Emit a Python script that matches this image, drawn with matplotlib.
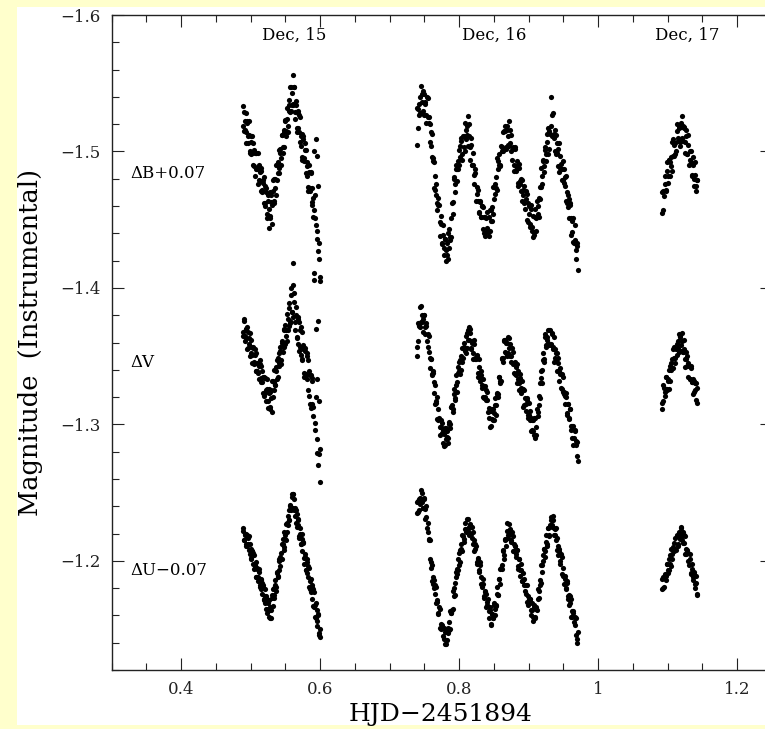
import numpy as np
import matplotlib
matplotlib.use('Agg')
import matplotlib.pyplot as plt
from matplotlib.patches import Rectangle
from matplotlib.ticker import MultipleLocator, FuncFormatter

# HJD - 2451894, two interleaved frame sequences per night (a, b)
hjd_dec15_a = [0.4890, 0.4903, 0.4916, 0.4929, 0.4942, 0.4955, 0.4968, 0.4981, 0.4994, 0.5007,
               0.5020, 0.5033, 0.5046, 0.5059, 0.5072, 0.5085, 0.5098, 0.5111, 0.5124, 0.5137,
               0.5150, 0.5163, 0.5176, 0.5189, 0.5202, 0.5215, 0.5228, 0.5241, 0.5254, 0.5267,
               0.5280, 0.5293, 0.5306, 0.5319, 0.5332, 0.5345, 0.5358, 0.5371, 0.5384, 0.5397,
               0.5410, 0.5423, 0.5436, 0.5449, 0.5462, 0.5475, 0.5488, 0.5501, 0.5514, 0.5527,
               0.5540, 0.5553, 0.5566, 0.5579, 0.5592, 0.5605, 0.5618, 0.5631, 0.5644, 0.5657,
               0.5670, 0.5683, 0.5696, 0.5709, 0.5722, 0.5735, 0.5748, 0.5761, 0.5774, 0.5787,
               0.5800, 0.5813, 0.5826, 0.5839, 0.5852, 0.5865, 0.5878, 0.5891, 0.5904, 0.5917,
               0.5930, 0.5943, 0.5956, 0.5969, 0.5982, 0.5995]
hjd_dec15_b = [0.4897, 0.4910, 0.4923, 0.4936, 0.4949, 0.4962, 0.4975, 0.4988, 0.5001, 0.5014,
               0.5027, 0.5040, 0.5053, 0.5066, 0.5079, 0.5092, 0.5105, 0.5118, 0.5131, 0.5144,
               0.5157, 0.5170, 0.5183, 0.5196, 0.5209, 0.5222, 0.5235, 0.5248, 0.5261, 0.5274,
               0.5287, 0.5300, 0.5313, 0.5326, 0.5339, 0.5352, 0.5365, 0.5378, 0.5391, 0.5404,
               0.5417, 0.5430, 0.5443, 0.5456, 0.5469, 0.5482, 0.5495, 0.5508, 0.5521, 0.5534,
               0.5547, 0.5560, 0.5573, 0.5586, 0.5599, 0.5612, 0.5625, 0.5638, 0.5651, 0.5664,
               0.5677, 0.5690, 0.5703, 0.5716, 0.5729, 0.5742, 0.5755, 0.5768, 0.5781, 0.5794,
               0.5807, 0.5820, 0.5833, 0.5846, 0.5859, 0.5872, 0.5885, 0.5898, 0.5911, 0.5924,
               0.5937, 0.5950, 0.5963, 0.5976, 0.5989, 0.6002]
hjd_dec16_a = [0.7390, 0.7405, 0.7420, 0.7435, 0.7450, 0.7465, 0.7480, 0.7495, 0.7510, 0.7525,
               0.7540, 0.7555, 0.7570, 0.7585, 0.7600, 0.7615, 0.7630, 0.7645, 0.7660, 0.7675,
               0.7690, 0.7705, 0.7720, 0.7735, 0.7750, 0.7765, 0.7780, 0.7795, 0.7810, 0.7825,
               0.7840, 0.7855, 0.7870, 0.7885, 0.7900, 0.7915, 0.7930, 0.7945, 0.7960, 0.7975,
               0.7990, 0.8005, 0.8020, 0.8035, 0.8050, 0.8065, 0.8080, 0.8095, 0.8110, 0.8125,
               0.8140, 0.8155, 0.8170, 0.8185, 0.8200, 0.8215, 0.8230, 0.8245, 0.8260, 0.8275,
               0.8290, 0.8305, 0.8320, 0.8335, 0.8350, 0.8365, 0.8380, 0.8395, 0.8410, 0.8425,
               0.8440, 0.8455, 0.8470, 0.8485, 0.8500, 0.8515, 0.8530, 0.8545, 0.8560, 0.8575,
               0.8590, 0.8605, 0.8620, 0.8635, 0.8650, 0.8665, 0.8680, 0.8695, 0.8710, 0.8725,
               0.8740, 0.8755, 0.8770, 0.8785, 0.8800, 0.8815, 0.8830, 0.8845, 0.8860, 0.8875,
               0.8890, 0.8905, 0.8920, 0.8935, 0.8950, 0.8965, 0.8980, 0.8995, 0.9010, 0.9025,
               0.9040, 0.9055, 0.9070, 0.9085, 0.9100, 0.9115, 0.9130, 0.9145, 0.9160, 0.9175,
               0.9190, 0.9205, 0.9220, 0.9235, 0.9250, 0.9265, 0.9280, 0.9295, 0.9310, 0.9325,
               0.9340, 0.9355, 0.9370, 0.9385, 0.9400, 0.9415, 0.9430, 0.9445, 0.9460, 0.9475,
               0.9490, 0.9505, 0.9520, 0.9535, 0.9550, 0.9565, 0.9580, 0.9595, 0.9610, 0.9625,
               0.9640, 0.9655, 0.9670, 0.9685, 0.9700]
hjd_dec16_b = [0.7397, 0.7412, 0.7427, 0.7442, 0.7457, 0.7472, 0.7487, 0.7502, 0.7517, 0.7532,
               0.7547, 0.7562, 0.7577, 0.7592, 0.7607, 0.7622, 0.7637, 0.7652, 0.7667, 0.7682,
               0.7697, 0.7712, 0.7727, 0.7742, 0.7757, 0.7772, 0.7787, 0.7802, 0.7817, 0.7832,
               0.7847, 0.7862, 0.7877, 0.7892, 0.7907, 0.7922, 0.7937, 0.7952, 0.7967, 0.7982,
               0.7997, 0.8012, 0.8027, 0.8042, 0.8057, 0.8072, 0.8087, 0.8102, 0.8117, 0.8132,
               0.8147, 0.8162, 0.8177, 0.8192, 0.8207, 0.8222, 0.8237, 0.8252, 0.8267, 0.8282,
               0.8297, 0.8312, 0.8327, 0.8342, 0.8357, 0.8372, 0.8387, 0.8402, 0.8417, 0.8432,
               0.8447, 0.8462, 0.8477, 0.8492, 0.8507, 0.8522, 0.8537, 0.8552, 0.8567, 0.8582,
               0.8597, 0.8612, 0.8627, 0.8642, 0.8657, 0.8672, 0.8687, 0.8702, 0.8717, 0.8732,
               0.8747, 0.8762, 0.8777, 0.8792, 0.8807, 0.8822, 0.8837, 0.8852, 0.8867, 0.8882,
               0.8897, 0.8912, 0.8927, 0.8942, 0.8957, 0.8972, 0.8987, 0.9002, 0.9017, 0.9032,
               0.9047, 0.9062, 0.9077, 0.9092, 0.9107, 0.9122, 0.9137, 0.9152, 0.9167, 0.9182,
               0.9197, 0.9212, 0.9227, 0.9242, 0.9257, 0.9272, 0.9287, 0.9302, 0.9317, 0.9332,
               0.9347, 0.9362, 0.9377, 0.9392, 0.9407, 0.9422, 0.9437, 0.9452, 0.9467, 0.9482,
               0.9497, 0.9512, 0.9527, 0.9542, 0.9557, 0.9572, 0.9587, 0.9602, 0.9617, 0.9632,
               0.9647, 0.9662, 0.9677, 0.9692, 0.9707]
hjd_dec17_a = [1.0920, 1.0935, 1.0950, 1.0965, 1.0980, 1.0995, 1.1010, 1.1025, 1.1040, 1.1055,
               1.1070, 1.1085, 1.1100, 1.1115, 1.1130, 1.1145, 1.1160, 1.1175, 1.1190, 1.1205,
               1.1220, 1.1235, 1.1250, 1.1265, 1.1280, 1.1295, 1.1310, 1.1325, 1.1340, 1.1355,
               1.1370, 1.1385, 1.1400, 1.1415, 1.1430]
hjd_dec17_b = [1.0927, 1.0942, 1.0957, 1.0972, 1.0987, 1.1002, 1.1017, 1.1032, 1.1047, 1.1062,
               1.1077, 1.1092, 1.1107, 1.1122, 1.1137, 1.1152, 1.1167, 1.1182, 1.1197, 1.1212,
               1.1227, 1.1242, 1.1257, 1.1272, 1.1287, 1.1302, 1.1317, 1.1332, 1.1347, 1.1362,
               1.1377, 1.1392, 1.1407, 1.1422]

# dB + 0.07
b_dec15_a = [-1.519, -1.529, -1.516, -1.528, -1.514, -1.522, -1.506, -1.512, -1.499, -1.511,
             -1.499, -1.506, -1.489, -1.499, -1.487, -1.499, -1.488, -1.476, -1.490, -1.478,
             -1.488, -1.470, -1.477, -1.462, -1.475, -1.460, -1.473, -1.451, -1.464, -1.444,
             -1.453, -1.468, -1.447, -1.471, -1.462, -1.480, -1.473, -1.490, -1.479, -1.492,
             -1.484, -1.502, -1.495, -1.512, -1.499, -1.514, -1.503, -1.522, -1.515, -1.532,
             -1.519, -1.538, -1.529, -1.547, -1.534, -1.556, -1.534, -1.547, -1.529, -1.537,
             -1.517, -1.528, -1.514, -1.525, -1.504, -1.513, -1.494, -1.509, -1.493, -1.506,
             -1.484, -1.492, -1.474, -1.490, -1.471, -1.485, -1.463, -1.473, -1.452, -1.500,
             -1.451, -1.509, -1.442, -1.427, -1.433, -1.405]
b_dec15_b = [-1.533, -1.515, -1.522, -1.506, -1.521, -1.511, -1.522, -1.500, -1.507, -1.498,
             -1.511, -1.490, -1.501, -1.482, -1.499, -1.487, -1.499, -1.479, -1.485, -1.471,
             -1.486, -1.472, -1.479, -1.481, -1.462, -1.470, -1.454, -1.468, -1.458, -1.470,
             -1.451, -1.463, -1.461, -1.479, -1.464, -1.480, -1.468, -1.490, -1.484, -1.501,
             -1.488, -1.499, -1.490, -1.512, -1.503, -1.516, -1.523, -1.511, -1.524, -1.514,
             -1.534, -1.530, -1.547, -1.530, -1.543, -1.535, -1.547, -1.524, -1.534, -1.514,
             -1.530, -1.517, -1.527, -1.507, -1.511, -1.496, -1.511, -1.495, -1.501, -1.501,
             -1.482, -1.489, -1.471, -1.485, -1.473, -1.484, -1.461, -1.466, -1.457, -1.468,
             -1.446, -1.497, -1.436, -1.475, -1.421, -1.408]
b_dec16_a = [-1.505, -1.531, -1.527, -1.540, -1.528, -1.542, -1.530, -1.542, -1.535, -1.527,
             -1.540, -1.525, -1.525, -1.507, -1.514, -1.496, -1.495, -1.473, -1.482, -1.468,
             -1.457, -1.461, -1.448, -1.453, -1.433, -1.439, -1.424, -1.436, -1.428, -1.424,
             -1.440, -1.429, -1.437, -1.437, -1.462, -1.463, -1.480, -1.470, -1.490, -1.487,
             -1.487, -1.501, -1.496, -1.510, -1.498, -1.511, -1.500, -1.516, -1.512, -1.526,
             -1.520, -1.503, -1.505, -1.490, -1.499, -1.483, -1.484, -1.464, -1.474, -1.464,
             -1.456, -1.464, -1.452, -1.460, -1.443, -1.452, -1.438, -1.451, -1.444, -1.438,
             -1.457, -1.449, -1.459, -1.454, -1.474, -1.469, -1.481, -1.472, -1.493, -1.490,
             -1.490, -1.504, -1.500, -1.514, -1.502, -1.515, -1.503, -1.519, -1.511, -1.504,
             -1.516, -1.500, -1.503, -1.490, -1.502, -1.489, -1.493, -1.475, -1.488, -1.478,
             -1.471, -1.479, -1.468, -1.475, -1.458, -1.465, -1.450, -1.462, -1.454, -1.445,
             -1.458, -1.442, -1.437, -1.441, -1.458, -1.451, -1.460, -1.452, -1.474, -1.474,
             -1.476, -1.493, -1.489, -1.503, -1.493, -1.507, -1.498, -1.515, -1.513, -1.540,
             -1.527, -1.511, -1.513, -1.500, -1.512, -1.499, -1.502, -1.485, -1.497, -1.487,
             -1.479, -1.487, -1.475, -1.482, -1.462, -1.468, -1.451, -1.461, -1.451, -1.441,
             -1.451, -1.433, -1.435, -1.421, -1.431]
b_dec16_b = [-1.532, -1.517, -1.535, -1.528, -1.548, -1.536, -1.544, -1.527, -1.536, -1.521,
             -1.539, -1.521, -1.520, -1.504, -1.513, -1.493, -1.492, -1.472, -1.476, -1.462,
             -1.466, -1.461, -1.438, -1.447, -1.432, -1.446, -1.429, -1.436, -1.420, -1.433,
             -1.421, -1.443, -1.435, -1.451, -1.454, -1.481, -1.476, -1.487, -1.478, -1.493,
             -1.490, -1.504, -1.508, -1.494, -1.511, -1.503, -1.521, -1.509, -1.519, -1.504,
             -1.511, -1.494, -1.510, -1.490, -1.490, -1.476, -1.487, -1.469, -1.472, -1.455,
             -1.463, -1.452, -1.460, -1.459, -1.440, -1.452, -1.441, -1.456, -1.441, -1.452,
             -1.442, -1.457, -1.449, -1.474, -1.465, -1.476, -1.473, -1.495, -1.487, -1.498,
             -1.489, -1.503, -1.500, -1.515, -1.519, -1.502, -1.516, -1.505, -1.522, -1.506,
             -1.512, -1.494, -1.502, -1.486, -1.503, -1.486, -1.488, -1.477, -1.491, -1.476,
             -1.480, -1.464, -1.472, -1.462, -1.471, -1.469, -1.448, -1.460, -1.447, -1.461,
             -1.445, -1.453, -1.439, -1.452, -1.442, -1.464, -1.454, -1.466, -1.465, -1.488,
             -1.482, -1.494, -1.485, -1.501, -1.498, -1.513, -1.517, -1.502, -1.519, -1.511,
             -1.528, -1.510, -1.516, -1.498, -1.506, -1.489, -1.506, -1.488, -1.491, -1.479,
             -1.493, -1.477, -1.481, -1.464, -1.470, -1.459, -1.465, -1.462, -1.439, -1.449,
             -1.434, -1.446, -1.428, -1.433, -1.413]
b_dec17_a = [-1.455, -1.471, -1.467, -1.482, -1.472, -1.486, -1.477, -1.494, -1.492, -1.489,
             -1.507, -1.497, -1.505, -1.498, -1.515, -1.508, -1.517, -1.504, -1.521, -1.526,
             -1.508, -1.517, -1.507, -1.516, -1.498, -1.505, -1.490, -1.500, -1.492, -1.483,
             -1.496, -1.480, -1.483, -1.471, -1.479]
b_dec17_b = [-1.470, -1.457, -1.476, -1.471, -1.492, -1.482, -1.494, -1.482, -1.496, -1.486,
             -1.509, -1.497, -1.506, -1.500, -1.520, -1.510, -1.519, -1.507, -1.518, -1.510,
             -1.519, -1.518, -1.499, -1.511, -1.498, -1.512, -1.494, -1.500, -1.482, -1.490,
             -1.475, -1.492, -1.475, -1.479]

# dV
v_dec15_a = [-1.368, -1.376, -1.361, -1.370, -1.363, -1.371, -1.356, -1.363, -1.350, -1.362,
             -1.351, -1.357, -1.344, -1.351, -1.339, -1.352, -1.339, -1.344, -1.333, -1.344,
             -1.334, -1.339, -1.323, -1.335, -1.323, -1.334, -1.317, -1.326, -1.312, -1.326,
             -1.313, -1.325, -1.309, -1.332, -1.325, -1.340, -1.329, -1.342, -1.333, -1.349,
             -1.343, -1.357, -1.347, -1.360, -1.353, -1.369, -1.357, -1.373, -1.365, -1.381,
             -1.369, -1.389, -1.376, -1.400, -1.382, -1.418, -1.379, -1.390, -1.369, -1.380,
             -1.364, -1.379, -1.354, -1.369, -1.351, -1.368, -1.347, -1.355, -1.335, -1.354,
             -1.336, -1.350, -1.325, -1.339, -1.315, -1.336, -1.315, -1.334, -1.306, -1.411,
             -1.296, -1.320, -1.279, -1.376, -1.278, -1.258]
v_dec15_b = [-1.365, -1.377, -1.365, -1.370, -1.355, -1.368, -1.359, -1.367, -1.352, -1.357,
             -1.345, -1.356, -1.346, -1.355, -1.339, -1.345, -1.338, -1.343, -1.347, -1.331,
             -1.343, -1.331, -1.335, -1.321, -1.334, -1.325, -1.333, -1.317, -1.323, -1.311,
             -1.324, -1.319, -1.332, -1.320, -1.331, -1.329, -1.339, -1.347, -1.335, -1.352,
             -1.345, -1.354, -1.344, -1.361, -1.357, -1.370, -1.359, -1.369, -1.361, -1.377,
             -1.372, -1.385, -1.374, -1.395, -1.382, -1.402, -1.396, -1.375, -1.386, -1.363,
             -1.377, -1.359, -1.375, -1.357, -1.371, -1.348, -1.358, -1.338, -1.356, -1.337,
             -1.352, -1.333, -1.347, -1.321, -1.336, -1.312, -1.332, -1.313, -1.406, -1.301,
             -1.370, -1.289, -1.333, -1.270, -1.317, -1.282]
v_dec16_a = [-1.350, -1.361, -1.373, -1.371, -1.387, -1.375, -1.377, -1.380, -1.366, -1.374,
             -1.361, -1.366, -1.353, -1.341, -1.348, -1.337, -1.339, -1.331, -1.315, -1.317,
             -1.304, -1.311, -1.298, -1.298, -1.301, -1.286, -1.293, -1.285, -1.297, -1.291,
             -1.286, -1.300, -1.300, -1.313, -1.314, -1.309, -1.322, -1.319, -1.336, -1.331,
             -1.338, -1.346, -1.337, -1.350, -1.346, -1.360, -1.355, -1.352, -1.367, -1.362,
             -1.371, -1.367, -1.355, -1.361, -1.352, -1.362, -1.348, -1.348, -1.350, -1.335,
             -1.342, -1.332, -1.339, -1.329, -1.320, -1.328, -1.320, -1.325, -1.318, -1.305,
             -1.310, -1.299, -1.311, -1.303, -1.308, -1.314, -1.307, -1.322, -1.320, -1.335,
             -1.332, -1.332, -1.349, -1.349, -1.362, -1.362, -1.352, -1.360, -1.352, -1.363,
             -1.350, -1.350, -1.353, -1.338, -1.346, -1.336, -1.344, -1.333, -1.325, -1.334,
             -1.327, -1.332, -1.326, -1.314, -1.319, -1.310, -1.319, -1.307, -1.307, -1.310,
             -1.295, -1.303, -1.295, -1.305, -1.290, -1.292, -1.309, -1.314, -1.330, -1.334,
             -1.330, -1.347, -1.346, -1.364, -1.357, -1.362, -1.369, -1.358, -1.369, -1.359,
             -1.366, -1.355, -1.346, -1.355, -1.347, -1.352, -1.345, -1.332, -1.337, -1.326,
             -1.335, -1.322, -1.321, -1.323, -1.308, -1.315, -1.304, -1.311, -1.299, -1.290,
             -1.299, -1.290, -1.295, -1.288, -1.277]
v_dec16_b = [-1.357, -1.374, -1.372, -1.386, -1.375, -1.380, -1.368, -1.380, -1.371, -1.372,
             -1.357, -1.365, -1.349, -1.348, -1.336, -1.338, -1.323, -1.329, -1.316, -1.320,
             -1.303, -1.305, -1.292, -1.303, -1.294, -1.296, -1.284, -1.297, -1.289, -1.295,
             -1.290, -1.302, -1.297, -1.313, -1.311, -1.326, -1.318, -1.329, -1.324, -1.342,
             -1.339, -1.347, -1.340, -1.356, -1.349, -1.357, -1.354, -1.365, -1.356, -1.369,
             -1.362, -1.370, -1.356, -1.360, -1.348, -1.359, -1.349, -1.351, -1.338, -1.348,
             -1.335, -1.336, -1.327, -1.333, -1.319, -1.328, -1.318, -1.324, -1.309, -1.312,
             -1.298, -1.310, -1.304, -1.311, -1.303, -1.319, -1.314, -1.323, -1.322, -1.335,
             -1.330, -1.348, -1.346, -1.361, -1.353, -1.360, -1.350, -1.364, -1.356, -1.359,
             -1.346, -1.356, -1.344, -1.345, -1.337, -1.342, -1.330, -1.339, -1.330, -1.337,
             -1.323, -1.326, -1.313, -1.325, -1.315, -1.318, -1.305, -1.316, -1.303, -1.305,
             -1.296, -1.303, -1.292, -1.305, -1.298, -1.311, -1.306, -1.321, -1.319, -1.339,
             -1.340, -1.352, -1.348, -1.366, -1.358, -1.364, -1.360, -1.369, -1.358, -1.367,
             -1.357, -1.364, -1.349, -1.352, -1.339, -1.349, -1.339, -1.341, -1.327, -1.337,
             -1.324, -1.324, -1.315, -1.320, -1.307, -1.315, -1.305, -1.311, -1.296, -1.299,
             -1.285, -1.296, -1.285, -1.287, -1.273]
v_dec17_a = [-1.311, -1.317, -1.327, -1.321, -1.335, -1.326, -1.332, -1.340, -1.332, -1.345,
             -1.341, -1.355, -1.349, -1.345, -1.359, -1.356, -1.366, -1.364, -1.354, -1.361,
             -1.353, -1.362, -1.348, -1.348, -1.350, -1.335, -1.343, -1.333, -1.341, -1.331,
             -1.322, -1.332, -1.325, -1.330, -1.316]
v_dec17_b = [-1.316, -1.329, -1.324, -1.335, -1.325, -1.333, -1.326, -1.343, -1.340, -1.348,
             -1.341, -1.357, -1.349, -1.355, -1.351, -1.361, -1.353, -1.365, -1.358, -1.367,
             -1.353, -1.355, -1.342, -1.353, -1.343, -1.345, -1.333, -1.343, -1.331, -1.333,
             -1.324, -1.330, -1.318, -1.327]

# dU - 0.07
u_dec15_a = [-1.222, -1.215, -1.220, -1.212, -1.220, -1.211, -1.217, -1.208, -1.212, -1.201,
             -1.207, -1.198, -1.204, -1.195, -1.199, -1.188, -1.194, -1.185, -1.192, -1.182,
             -1.187, -1.176, -1.181, -1.172, -1.179, -1.169, -1.174, -1.162, -1.169, -1.159,
             -1.164, -1.158, -1.173, -1.167, -1.180, -1.175, -1.186, -1.181, -1.192, -1.188,
             -1.201, -1.196, -1.206, -1.201, -1.212, -1.208, -1.221, -1.216, -1.227, -1.221,
             -1.233, -1.230, -1.241, -1.237, -1.247, -1.249, -1.239, -1.245, -1.233, -1.237,
             -1.225, -1.230, -1.218, -1.224, -1.212, -1.220, -1.207, -1.213, -1.198, -1.205,
             -1.193, -1.201, -1.188, -1.195, -1.179, -1.187, -1.172, -1.182, -1.167, -1.177,
             -1.159, -1.169, -1.152, -1.161, -1.147, -1.144]
u_dec15_b = [-1.224, -1.215, -1.219, -1.211, -1.219, -1.212, -1.218, -1.205, -1.209, -1.202,
             -1.207, -1.206, -1.194, -1.197, -1.188, -1.195, -1.188, -1.194, -1.181, -1.186,
             -1.179, -1.184, -1.182, -1.171, -1.174, -1.165, -1.172, -1.165, -1.171, -1.158,
             -1.166, -1.164, -1.175, -1.179, -1.173, -1.182, -1.178, -1.191, -1.189, -1.200,
             -1.193, -1.203, -1.201, -1.212, -1.216, -1.210, -1.219, -1.215, -1.228, -1.226,
             -1.237, -1.230, -1.240, -1.238, -1.249, -1.249, -1.237, -1.239, -1.228, -1.234,
             -1.226, -1.231, -1.217, -1.220, -1.212, -1.216, -1.214, -1.202, -1.203, -1.193,
             -1.199, -1.191, -1.196, -1.181, -1.185, -1.177, -1.181, -1.179, -1.166, -1.168,
             -1.158, -1.164, -1.156, -1.160, -1.146, -1.150]
u_dec16_a = [-1.235, -1.244, -1.237, -1.246, -1.245, -1.250, -1.239, -1.245, -1.238, -1.240,
             -1.224, -1.221, -1.216, -1.201, -1.199, -1.185, -1.188, -1.180, -1.182, -1.169,
             -1.171, -1.161, -1.165, -1.150, -1.151, -1.151, -1.143, -1.148, -1.139, -1.148,
             -1.147, -1.155, -1.150, -1.162, -1.164, -1.178, -1.174, -1.184, -1.192, -1.190,
             -1.201, -1.197, -1.208, -1.209, -1.219, -1.214, -1.223, -1.221, -1.231, -1.222,
             -1.225, -1.227, -1.220, -1.225, -1.212, -1.215, -1.209, -1.211, -1.198, -1.201,
             -1.192, -1.197, -1.183, -1.183, -1.183, -1.174, -1.178, -1.166, -1.170, -1.163,
             -1.166, -1.154, -1.161, -1.158, -1.168, -1.160, -1.168, -1.176, -1.175, -1.187,
             -1.183, -1.195, -1.197, -1.208, -1.204, -1.216, -1.216, -1.228, -1.217, -1.221,
             -1.223, -1.214, -1.218, -1.207, -1.211, -1.205, -1.208, -1.196, -1.201, -1.193,
             -1.198, -1.185, -1.186, -1.187, -1.178, -1.182, -1.170, -1.174, -1.169, -1.172,
             -1.160, -1.164, -1.159, -1.168, -1.159, -1.165, -1.172, -1.173, -1.186, -1.184,
             -1.197, -1.200, -1.209, -1.203, -1.214, -1.212, -1.224, -1.218, -1.226, -1.232,
             -1.225, -1.230, -1.219, -1.223, -1.215, -1.217, -1.204, -1.207, -1.198, -1.203,
             -1.189, -1.189, -1.189, -1.180, -1.184, -1.172, -1.175, -1.169, -1.172, -1.159,
             -1.163, -1.155, -1.159, -1.146, -1.140]
u_dec16_b = [-1.243, -1.236, -1.245, -1.242, -1.252, -1.243, -1.239, -1.246, -1.231, -1.232,
             -1.228, -1.215, -1.215, -1.195, -1.197, -1.183, -1.186, -1.176, -1.181, -1.170,
             -1.162, -1.166, -1.151, -1.154, -1.153, -1.145, -1.151, -1.139, -1.149, -1.142,
             -1.151, -1.149, -1.163, -1.162, -1.165, -1.180, -1.175, -1.188, -1.194, -1.193,
             -1.206, -1.199, -1.212, -1.207, -1.218, -1.216, -1.228, -1.223, -1.222, -1.231,
             -1.219, -1.225, -1.225, -1.217, -1.221, -1.207, -1.212, -1.199, -1.202, -1.193,
             -1.199, -1.188, -1.181, -1.187, -1.173, -1.177, -1.176, -1.168, -1.172, -1.158,
             -1.164, -1.153, -1.161, -1.158, -1.169, -1.165, -1.167, -1.181, -1.175, -1.187,
             -1.194, -1.194, -1.207, -1.201, -1.215, -1.211, -1.222, -1.219, -1.227, -1.220,
             -1.215, -1.221, -1.207, -1.212, -1.211, -1.203, -1.208, -1.194, -1.201, -1.189,
             -1.193, -1.185, -1.191, -1.182, -1.176, -1.182, -1.168, -1.172, -1.172, -1.164,
             -1.169, -1.156, -1.166, -1.158, -1.166, -1.164, -1.179, -1.178, -1.182, -1.197,
             -1.192, -1.204, -1.209, -1.207, -1.219, -1.211, -1.224, -1.219, -1.230, -1.226,
             -1.233, -1.224, -1.219, -1.224, -1.208, -1.211, -1.209, -1.200, -1.205, -1.190,
             -1.195, -1.183, -1.187, -1.179, -1.185, -1.174, -1.168, -1.174, -1.159, -1.163,
             -1.162, -1.153, -1.158, -1.143, -1.148]
u_dec17_a = [-1.179, -1.188, -1.181, -1.190, -1.189, -1.198, -1.191, -1.201, -1.198, -1.209,
             -1.201, -1.208, -1.213, -1.209, -1.218, -1.211, -1.220, -1.218, -1.224, -1.215,
             -1.221, -1.213, -1.218, -1.205, -1.206, -1.206, -1.197, -1.201, -1.190, -1.194,
             -1.188, -1.192, -1.180, -1.184, -1.176]
u_dec17_b = [-1.187, -1.180, -1.189, -1.186, -1.198, -1.193, -1.193, -1.204, -1.196, -1.205,
             -1.210, -1.207, -1.217, -1.208, -1.219, -1.212, -1.221, -1.216, -1.225, -1.218,
             -1.213, -1.219, -1.205, -1.209, -1.208, -1.200, -1.205, -1.191, -1.198, -1.186,
             -1.190, -1.183, -1.189, -1.175]

night_labels = ['Dec, 15', 'Dec, 16', 'Dec, 17']
night_label_x = [0.5626, 0.850, 1.129]
band_labels = ['\u0394B+0.07', '\u0394V', '\u0394U\u22120.07']
band_label_y = [-1.484, -1.345, -1.193]

plt.rcParams['font.family'] = ['DejaVu Serif']

hjd = np.concatenate([hjd_dec15_a, hjd_dec15_b, hjd_dec16_a, hjd_dec16_b, hjd_dec17_a, hjd_dec17_b])
b = np.concatenate([b_dec15_a, b_dec15_b, b_dec16_a, b_dec16_b, b_dec17_a, b_dec17_b])
v = np.concatenate([v_dec15_a, v_dec15_b, v_dec16_a, v_dec16_b, v_dec17_a, v_dec17_b])
u = np.concatenate([u_dec15_a, u_dec15_b, u_dec16_a, u_dec16_b, u_dec17_a, u_dec17_b])

fig = plt.figure(figsize=(7.65, 7.29), dpi=100, facecolor='#ffffcc')
fig.add_artist(Rectangle((17/765, 4/729), 748/765, 718/729, transform=fig.transFigure,
                         facecolor='white', edgecolor='none', zorder=-10))

ax = fig.add_axes([111.5/765, 59/729, 660.25/765, 655/729])
for mag in (b, v, u):
    ax.scatter(hjd, mag, s=14, color='black', linewidths=0)

ax.set_xlim(0.3, 1.25)
ax.set_ylim(-1.12, -1.6)

ax.xaxis.set_major_locator(MultipleLocator(0.2))
ax.xaxis.set_minor_locator(MultipleLocator(0.05))
ax.yaxis.set_major_locator(MultipleLocator(0.1))
ax.yaxis.set_minor_locator(MultipleLocator(0.02))
ax.xaxis.set_major_formatter(FuncFormatter(lambda val, pos: f'{val:g}'))
ax.yaxis.set_major_formatter(FuncFormatter(lambda val, pos: f'{val:g}'.replace('-', '\u2212')))

ax.tick_params(which='both', direction='in', top=True, right=True, width=0.8, colors='#222222')
ax.tick_params(which='major', length=8.6, labelsize=12, pad=8)
ax.tick_params(which='minor', length=4.7)
for sp in ax.spines.values():
    sp.set_linewidth(1.0)
    sp.set_color('#222222')

ax.set_ylabel('Magnitude  (Instrumental)', fontsize=18.5)
ax.yaxis.set_label_coords(-0.104, 0.5)
ax.set_xlabel('HJD\u22122451894', fontsize=18)
ax.xaxis.set_label_coords(0.499, -0.05)

for lab, xpos in zip(night_labels, night_label_x):
    ax.text(xpos, -1.585, lab, fontsize=12, ha='center', va='center')
for lab, ypos in zip(band_labels, band_label_y):
    ax.text(0.3266, ypos, lab, fontsize=12, ha='left', va='center')

fig.savefig('out.png', dpi=100, facecolor=fig.get_facecolor())
